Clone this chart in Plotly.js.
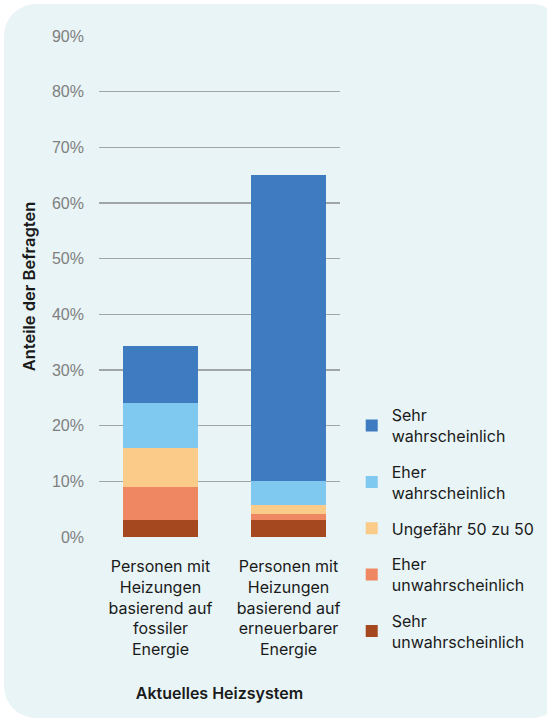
<!DOCTYPE html>
<html><head><meta charset="utf-8">
<script src="https://cdn.plot.ly/plotly-3.0.1.min.js"></script>
<style>
html,body{margin:0;padding:0;background:#ffffff;}
#bg{position:absolute;left:4px;top:4px;width:560px;height:714px;border-radius:32px;background:#E8F4F6;}
#chart{position:absolute;left:0;top:0;width:547px;height:720px;}
</style></head>
<body><div id="bg"></div><div id="chart"></div>
<script>
const categories = ["Personen mit<br>Heizungen<br>basierend auf<br>fossiler<br>Energie", "Personen mit<br>Heizungen<br>basierend auf<br>erneuerbarer<br>Energie"];
const seriesNames = ["Sehr<br>unwahrscheinlich", "Eher<br>unwahrscheinlich", "Ungefähr 50 zu 50", "Eher<br>wahrscheinlich", "Sehr<br>wahrscheinlich"];
const sehrUnwahrscheinlich = [0.030, 0.030];
const eherUnwahrscheinlich = [0.060, 0.011];
const ungefaehr50 = [0.070, 0.016];
const eherWahrscheinlich = [0.080, 0.043];
const sehrWahrscheinlich = [0.103, 0.550];
const yTicks = [0, 0.1, 0.2, 0.3, 0.4, 0.5, 0.6, 0.7, 0.8, 0.9];
const colors = ["#A5481F", "#EF8762", "#FBCB89", "#7FC8EF", "#3F7BC0"];
const values = [sehrUnwahrscheinlich, eherUnwahrscheinlich, ungefaehr50, eherWahrscheinlich, sehrWahrscheinlich];

const txtFont = "Inter, Roboto, 'DejaVu Sans', sans-serif";
const traces = values.map((v, i) => ({
  type: "bar", x: categories, y: v, name: seriesNames[i],
  legendgroup: "g" + i, legendrank: 10 - i,
  marker: {color: colors[i], line: {width: 0}},
  width: 0.586, hoverinfo: "skip"
}));

const layout = {
  width: 547, height: 720,
  paper_bgcolor: "rgba(0,0,0,0)", plot_bgcolor: "rgba(0,0,0,0)",
  margin: {l: 99, r: 207, t: 36, b: 183, autoexpand: false},
  barmode: "stack",
  showlegend: true,
  legend: {xref: "container", yref: "container", x: 0.643, xanchor: "left", y: 0.447, yanchor: "top",
    traceorder: "grouped", tracegroupgap: 12,
    font: {family: txtFont, size: 16, color: "#1a1a1a"}, bgcolor: "rgba(0,0,0,0)"},
  xaxis: {range: [-0.48, 1.402], tickfont: {family: txtFont, size: 16, color: "#1a1a1a"},
    showline: false, ticks: "", showgrid: false, ticklabelstandoff: 18,
    title: {text: "Aktuelles Heizsystem", font: {family: txtFont, size: 16, color: "#1a1a1a", weight: 600}, standoff: 29}},
  yaxis: {range: [0, 0.9], tickvals: yTicks, tickformat: ".0%",
    tickfont: {family: "'Liberation Sans', Arial, sans-serif", size: 16, color: "#7f7f7f"},
    ticklabelstandoff: 14,
    showgrid: true, gridcolor: "#A0A6A6", gridwidth: 1.5, zeroline: false,
    showline: false, ticks: "",
    title: {text: "Anteile der Befragten", font: {family: txtFont, size: 16.5, color: "#1a1a1a", weight: 600}, standoff: 12}},
  font: {family: txtFont}
};
Plotly.newPlot("chart", traces, layout, {displayModeBar: false, staticPlot: true});
</script></body></html>
